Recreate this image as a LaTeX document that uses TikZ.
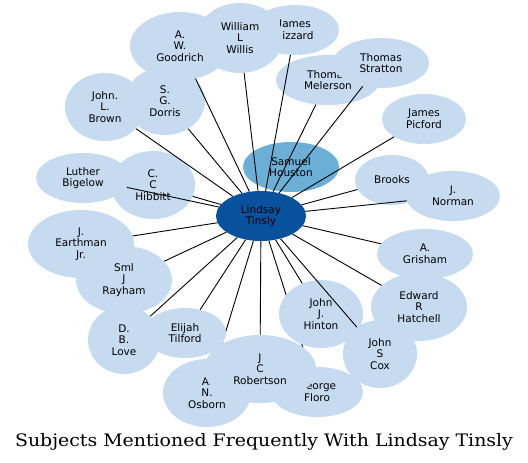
\documentclass[tikz,border=0pt]{standalone}
\usepackage{fontspec}
\usepackage{tikz}
\usetikzlibrary{shapes.geometric}
\newfontfamily\namefont{DejaVu Sans}
\newfontfamily\titlefont[FakeStretch=1.1]{DejaVu Serif}
\definecolor{paleblue}{HTML}{C6DBEF}
\definecolor{midblue}{HTML}{6BAED6}
\definecolor{deepblue}{HTML}{08519C}

\begin{document}
\begin{tikzpicture}[
  x=1pt, y=-1pt,
  person/.style={ellipse, fill=paleblue, inner sep=0pt, align=center, font=\namefont\fontsize{10.5}{11.7}\selectfont},
  twoline/.style={person, minimum height=50pt},
  threeline/.style={person, minimum height=68pt},
  link/.style={draw=black, line width=0.9pt},
]

  \useasboundingbox (0,0) rectangle (528,463);

  % Centre of the graph
  \node (houston) [twoline, fill=midblue, minimum width=96pt] at (291,167) {Samuel\\Houston};
  \node (lindsay) [twoline, fill=deepblue, minimum width=90pt] at (261,216) {Lindsay\\Tinsly};

  % Top
  \node (goodrich) [threeline, minimum width=100pt] at (180,46) {A.\\W.\\Goodrich};
  \node (lizzard) [twoline, minimum width=88pt] at (295,30) {James\\Lizzard};
  \node (willis) [threeline, minimum width=86pt, minimum height=70pt] at (240,38) {William\\L\\Willis};
  \node (melerson) [twoline, minimum width=104pt] at (328,80) {Thomas\\Melerson};
  \node (stratton) [twoline, minimum width=96pt] at (381,63) {Thomas\\Stratton};

  % Right
  \node (picford) [twoline, minimum width=84pt] at (424,119) {James\\Picford};
  \node (brooks) [twoline, minimum width=74pt] at (392,180) {Brooks};
  \node (norman) [twoline, minimum width=94pt] at (453,196) {J.\\Norman};
  \node (grisham) [twoline, minimum width=96pt] at (425,254) {A.\\Grisham};
  \node (hatchell) [threeline, minimum width=96pt] at (419,307) {Edward\\R\\Hatchell};

  % Bottom
  \node (floro) [twoline, minimum width=92pt] at (317,392) {George\\Floro};
  \draw [link] (lindsay) -- (floro);
  \node (hinton) [threeline, minimum width=84pt] at (321,314) {John\\J.\\Hinton};
  \node (cox) [threeline, minimum width=74pt] at (380,354) {John\\S\\Cox};
  \node (osborn) [threeline, minimum width=88pt] at (207,393) {A.\\N.\\Osborn};
  \draw [link] (lindsay) -- (osborn);
  \node (robertson) [threeline, minimum width=112pt] at (260,369) {J\\C\\Robertson};
  \node (tilford) [twoline, minimum width=82pt] at (185,333) {Elijah\\Tilford};

  % Left
  \node (earthman) [threeline, minimum width=106pt] at (81,244) {J.\\Earthman\\Jr.};
  \node (rayham) [threeline, minimum width=96pt] at (124,280) {Sml\\J\\Rayham};
  \node (love) [threeline, minimum width=72pt] at (124,340) {D.\\B.\\Love};
  \node (bigelow) [twoline, minimum width=94pt] at (83,178) {Luther\\Bigelow};
  \node (hibbitt) [threeline, minimum width=84pt] at (153,185) {C.\\C\\Hibbitt};
  \node (brown) [threeline, minimum width=80pt] at (105,107) {John.\\L.\\Brown};
  \node (dorris) [threeline, minimum width=80pt] at (165,101) {S.\\G.\\Dorris};

  % Connect the centre to everyone else
  \foreach \n in {goodrich, lizzard, willis, melerson, stratton, picford, brooks, norman, grisham, hatchell, hinton, cox, robertson, tilford, earthman, rayham, love, hibbitt, bigelow, brown, dorris} {
    \draw [link] (lindsay) -- (\n);
  }

  % Caption
  \node (caption) [anchor=base, font=\titlefont\fontsize{17.2}{21}\selectfont] at (264,446.5) {Subjects Mentioned Frequently With Lindsay Tinsly};

\end{tikzpicture}
\end{document}
